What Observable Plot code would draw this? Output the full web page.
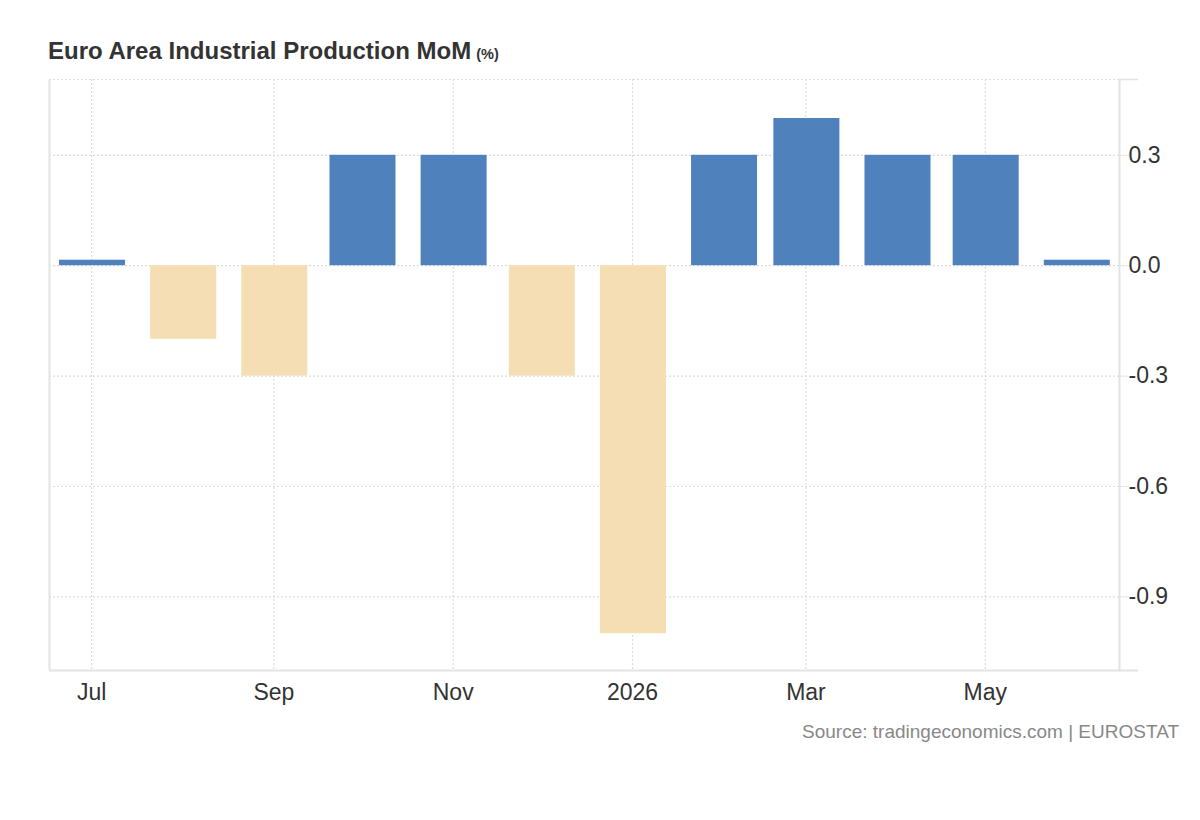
<!DOCTYPE html>
<html>
<head>
<meta charset="utf-8">
<script src="https://cdn.jsdelivr.net/npm/d3@7"></script>
<script src="https://cdn.jsdelivr.net/npm/@observablehq/plot@0.6"></script>
<style>
  html, body { margin: 0; padding: 0; background: #fff; }
  body { width: 1200px; height: 820px; position: relative; overflow: hidden;
         font-family: "Liberation Sans", Arial, sans-serif; }
  #title { position: absolute; left: 48px; top: 39px; font-size: 24px; line-height: 24px;
           font-weight: bold; color: #333; white-space: nowrap; }
  #title .unit { font-size: 14.5px; margin-left: 1px; }
  #chart { position: absolute; left: 0; top: 70px; }
  #source { position: absolute; right: 21px; top: 722px; font-size: 19px; line-height: 19px;
            color: #888; white-space: nowrap; }
</style>
</head>
<body>
<div id="title">Euro Area Industrial Production MoM<span class="unit"> (%)</span></div>
<div id="chart"></div>
<div id="source">Source: tradingeconomics.com | EUROSTAT</div>
<script>
// ---- data ----
const months = ["2025-07-01","2025-08-01","2025-09-01","2025-10-01","2025-11-01","2025-12-01",
                "2026-01-01","2026-02-01","2026-03-01","2026-04-01","2026-05-01","2026-06-01"];
const values = [0.0, -0.2, -0.3, 0.3, 0.3, -0.3, -1.0, 0.3, 0.4, 0.3, 0.3, 0.0];
const xTicks = ["2025-07-01","2025-09-01","2025-11-01","2026-01-01","2026-03-01","2026-05-01"];
const xTickLabels = ["Jul","Sep","Nov","2026","Mar","May"];
const yTicks = [0.3, 0.0, -0.3, -0.6, -0.9];
const xDomain = ["2025-06-16T16:00Z", "2026-06-15T16:00Z"];
const yDomain = [-1.1, 0.506];

// ---- build ----
const parse = s => new Date(s);
const data = months.map((m, i) => ({date: parse(m + "T00:00Z"), value: values[i]}));
const tickDates = xTicks.map(t => parse(t + "T00:00Z"));
const xd = xDomain.map(parse);
const BLUE = "#4f81bd", BEIGE = "#f5deb3";
const GRID = "#dcdcdc", AXIS = "#e3e3e3";
const barLeftHours = -262, barRightHours = 277;

const chart = Plot.plot({
  width: 1200,
  height: 640,
  marginLeft: 49,
  marginRight: 81,
  marginTop: 9,
  marginBottom: 40,
  style: {fontFamily: '"Liberation Sans", Arial, sans-serif', background: "#fff", overflow: "visible"},
  x: {type: "utc", domain: xd},
  y: {domain: yDomain},
  marks: [
    // dotted grid
    Plot.ruleY(yTicks.concat([yDomain[1]]), {stroke: GRID, strokeWidth: 1.2, strokeDasharray: "2,2"}),
    Plot.ruleX(tickDates, {stroke: GRID, strokeWidth: 1.2, strokeDasharray: "2,2"}),
    // bars
    Plot.rectY(data.filter(d => d.value !== 0), {
      x1: d => d3.utcHour.offset(d.date, barLeftHours),
      x2: d => d3.utcHour.offset(d.date, barRightHours),
      y1: 0, y2: "value",
      fill: d => d.value >= 0 ? BLUE : BEIGE
    }),
    // zero values drawn with a minimum visible height
    Plot.rectY(data.filter(d => d.value === 0), {
      x1: d => d3.utcHour.offset(d.date, barLeftHours),
      x2: d => d3.utcHour.offset(d.date, barRightHours),
      y1: 0, y2: "value", insetTop: -5.5,
      fill: BLUE
    }),
    // axis lines
    Plot.ruleX([xd[0]], {stroke: AXIS, strokeWidth: 2}),
    Plot.ruleX([xd[1]], {stroke: AXIS, strokeWidth: 2}),
    Plot.ruleY([yDomain[0]], {stroke: AXIS, strokeWidth: 2, insetRight: -19}),
    Plot.ruleY([yDomain[1]], {x1: xd[1], x2: xd[1], stroke: AXIS, strokeWidth: 1.5, insetRight: -19}),
    // axes
    Plot.axisY(yTicks, {
      anchor: "right", tickSize: 9, tickPadding: 0, fontSize: 23,
      stroke: AXIS, fill: "#333",
      tickFormat: d => d.toFixed(1), label: null
    }),
    Plot.axisX(tickDates, {
      anchor: "bottom", tickSize: 0, tickPadding: 13, fontSize: 23, fill: "#333",
      tickFormat: d => xTickLabels[tickDates.findIndex(t => +t === +d)], label: null
    })
  ]
});
document.getElementById("chart").appendChild(chart);
</script>
</body>
</html>
